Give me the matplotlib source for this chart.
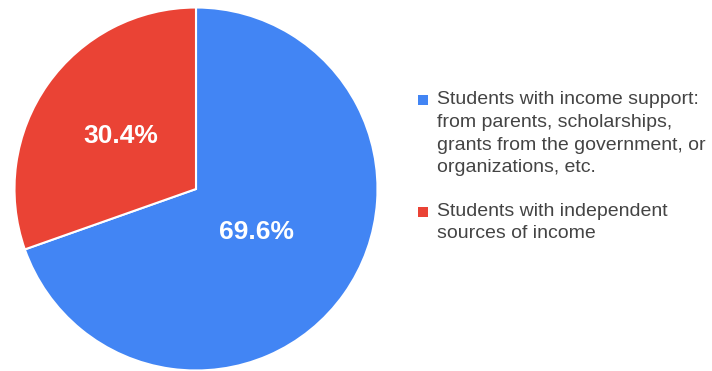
import numpy as np
import matplotlib.pyplot as plt
from matplotlib.patches import Rectangle

plt.rcParams['font.family'] = ['Liberation Sans', 'DejaVu Sans']

labels = [
    "Students with income support:\nfrom parents, scholarships,\ngrants from the government, or\norganizations, etc.",
    "Students with independent\nsources of income",
]
shares = [69.6, 30.4]
colors = ['#4285F4', '#EA4335']
label_dist = [0.41, 0.51]

W, H = 712, 371
fig = plt.figure(figsize=(W / 100, H / 100), dpi=100)

# pie area in pixels: centre (196, 189 from top), radius 181.5
cx, cy, r = 196, H - 189, 181.5
ax = fig.add_axes([(cx - r) / W, (cy - r) / H, 2 * r / W, 2 * r / H])
wedges, _, autotexts = ax.pie(
    shares, colors=colors, startangle=90, counterclock=False,
    autopct='%.1f%%',
    wedgeprops=dict(edgecolor='white', linewidth=1.5),
    textprops=dict(color='white', fontsize=19, fontweight='bold'))
# move percentage labels along each wedge's bisector
for w, t, d in zip(wedges, autotexts, label_dist):
    ang = np.deg2rad((w.theta1 + w.theta2) / 2)
    t.set_position((d * np.cos(ang), d * np.sin(ang)))
    t.set_va('center')
ax.set_xlim(-1, 1)
ax.set_ylim(-1, 1)
ax.set_aspect('equal')
ax.axis('off')

# legend drawn by hand
text_x = 437 / W
tops = [100, 211.5]
for lab, col, ty in zip(labels, colors, tops):
    for i, ln in enumerate(lab.split('\n')):
        fig.text(text_x, 1 - (ty + i * 22.5) / H, ln, fontsize=14,
                 color='#444444', va='center', ha='left')
    fig.add_artist(Rectangle((418 / W, 1 - (ty + 5) / H), 10 / W, 10 / H,
                             transform=fig.transFigure, color=col, lw=0))

fig.savefig('out.png', dpi=100, facecolor='white')
